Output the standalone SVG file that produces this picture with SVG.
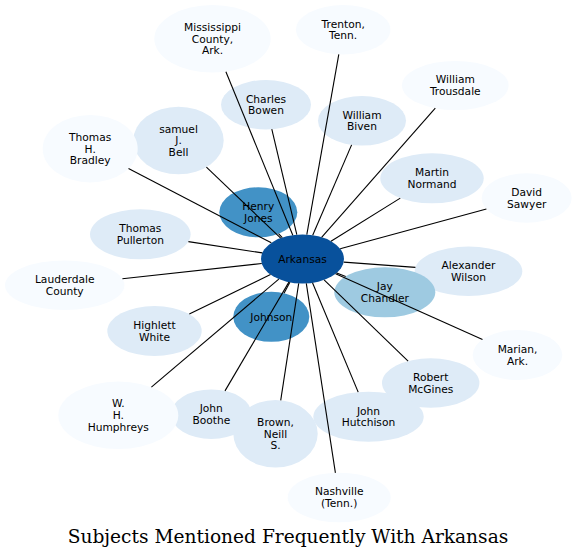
<svg xmlns="http://www.w3.org/2000/svg" width="576" height="558" viewBox="0 0 576 558">
<style>
.n text{font-family:"DejaVu Sans",Verdana,sans-serif;font-size:10.67px;fill:#000;text-anchor:middle}
.c0{fill:#f7fbff}.c1{fill:#deebf7}.c2{fill:#9ecae1}.c3{fill:#4292c6}.c4{fill:#08519c}
.e line{stroke:#000;stroke-width:1.1}
.title{font-family:"DejaVu Serif",serif;font-size:18.6px;fill:#000;text-anchor:middle}
</style>
<rect width="576" height="558" fill="#fff"/>
<g id="n-arkansas" class="n"><ellipse class="c4" cx="302.5" cy="259" rx="41.5" ry="24.5"/><text x="302.5" y="262.8">Arkansas</text></g>
<g id="n-mississippi" class="n"><ellipse class="c0" cx="212.5" cy="38.8" rx="58.2" ry="33.8"/><text x="212.5" y="30.9">Mississippi</text><text x="212.5" y="42.6">County,</text><text x="212.5" y="54.3">Ark.</text></g>
<g id="n-trenton" class="n"><ellipse class="c0" cx="343.2" cy="29.7" rx="47.2" ry="24.7"/><text x="343.2" y="27.6">Trenton,</text><text x="343.2" y="39.3">Tenn.</text></g>
<g id="n-trousdale" class="n"><ellipse class="c0" cx="455.3" cy="85.5" rx="53.3" ry="24.5"/><text x="455.3" y="83.4">William</text><text x="455.3" y="95.1">Trousdale</text></g>
<g id="n-bowen" class="n"><ellipse class="c1" cx="266" cy="104.7" rx="45" ry="24.7"/><text x="266" y="102.6">Charles</text><text x="266" y="114.3">Bowen</text></g>
<g id="n-biven" class="n"><ellipse class="c1" cx="362" cy="120.8" rx="44" ry="24.8"/><text x="362" y="118.7">William</text><text x="362" y="130.4">Biven</text></g>
<g id="n-bell" class="n"><ellipse class="c1" cx="178.5" cy="140.5" rx="45.2" ry="33.8"/><text x="178.5" y="132.6">samuel</text><text x="178.5" y="144.3">J.</text><text x="178.5" y="156">Bell</text></g>
<g id="n-bradley" class="n"><ellipse class="c0" cx="90.2" cy="148.7" rx="47.5" ry="33.7"/><text x="90.2" y="140.8">Thomas</text><text x="90.2" y="152.5">H.</text><text x="90.2" y="164.2">Bradley</text></g>
<g id="n-henry-jones" class="n"><ellipse class="c3" cx="258.3" cy="212.3" rx="39" ry="25"/><text x="258.3" y="210.2">Henry</text><text x="258.3" y="221.9">Jones</text></g>
<g id="n-normand" class="n"><ellipse class="c1" cx="432" cy="178.3" rx="51.7" ry="25"/><text x="432" y="176.2">Martin</text><text x="432" y="187.9">Normand</text></g>
<g id="n-sawyer" class="n"><ellipse class="c0" cx="526.7" cy="198" rx="45" ry="24.7"/><text x="526.7" y="195.9">David</text><text x="526.7" y="207.6">Sawyer</text></g>
<g id="n-pullerton" class="n"><ellipse class="c1" cx="140.3" cy="234.3" rx="50.3" ry="25"/><text x="140.3" y="232.2">Thomas</text><text x="140.3" y="243.9">Pullerton</text></g>
<g id="n-wilson" class="n"><ellipse class="c1" cx="468.5" cy="271.3" rx="53.8" ry="24.7"/><text x="468.5" y="269.2">Alexander</text><text x="468.5" y="280.9">Wilson</text></g>
<g id="n-chandler" class="n"><ellipse class="c2" cx="384.8" cy="292.3" rx="50.5" ry="25"/><text x="384.8" y="290.2">Jay</text><text x="384.8" y="301.9">Chandler</text></g>
<g id="n-lauderdale" class="n"><ellipse class="c0" cx="64.7" cy="285.2" rx="59.7" ry="24.8"/><text x="64.7" y="283.1">Lauderdale</text><text x="64.7" y="294.8">County</text></g>
<g id="n-highlett" class="n"><ellipse class="c1" cx="154.5" cy="331" rx="47.2" ry="25"/><text x="154.5" y="328.9">Highlett</text><text x="154.5" y="340.6">White</text></g>
<g id="n-johnson" class="n"><ellipse class="c3" cx="271.3" cy="316.8" rx="38" ry="25"/><text x="271.3" y="320.6">Johnson</text></g>
<g id="n-marian" class="n"><ellipse class="c0" cx="517.5" cy="355" rx="44.8" ry="25"/><text x="517.5" y="352.9">Marian,</text><text x="517.5" y="364.6">Ark.</text></g>
<g id="n-mcgines" class="n"><ellipse class="c1" cx="430.7" cy="383" rx="48.7" ry="24.7"/><text x="430.7" y="380.9">Robert</text><text x="430.7" y="392.6">McGines</text></g>
<g id="n-boothe" class="n"><ellipse class="c1" cx="211.3" cy="414.2" rx="40.3" ry="24.8"/><text x="211.3" y="412.1">John</text><text x="211.3" y="423.8">Boothe</text></g>
<g id="n-humphreys" class="n"><ellipse class="c0" cx="118.3" cy="415.3" rx="60" ry="33.7"/><text x="118.3" y="407.4">W.</text><text x="118.3" y="419.1">H.</text><text x="118.3" y="430.8">Humphreys</text></g>
<g id="n-hutchison" class="n"><ellipse class="c1" cx="368.5" cy="416.7" rx="55.2" ry="25"/><text x="368.5" y="414.6">John</text><text x="368.5" y="426.3">Hutchison</text></g>
<g id="n-brown" class="n"><ellipse class="c1" cx="275.5" cy="433.8" rx="42.2" ry="33.8"/><text x="275.5" y="425.9">Brown,</text><text x="275.5" y="437.6">Neill</text><text x="275.5" y="449.3">S.</text></g>
<g id="n-nashville" class="n"><ellipse class="c0" cx="339.2" cy="497.5" rx="51.5" ry="24.8"/><text x="339.2" y="495.4">Nashville</text><text x="339.2" y="507.1">(Tenn.)</text></g>
<g id="edges" class="e">
<line x1="292.8" y1="235.2" x2="225.9" y2="71.7"/>
<line x1="306.8" y1="234.6" x2="338.8" y2="54.3"/>
<line x1="321.6" y1="237.3" x2="435.3" y2="108.2"/>
<line x1="296.8" y1="234.7" x2="271.8" y2="129.2"/>
<line x1="312.7" y1="235.3" x2="351.6" y2="144.9"/>
<line x1="280.7" y1="238.2" x2="206.4" y2="167.1"/>
<line x1="271.3" y1="242.8" x2="128.5" y2="168.6"/>
<line x1="282.3" y1="237.6" x2="278.5" y2="233.7"/>
<line x1="331.0" y1="241.2" x2="400.3" y2="198.1"/>
<line x1="340.2" y1="248.7" x2="486.4" y2="209.0"/>
<line x1="262.3" y1="252.9" x2="188.4" y2="241.6"/>
<line x1="343.7" y1="262.1" x2="415.4" y2="267.4"/>
<line x1="336.7" y1="272.9" x2="345.7" y2="276.5"/>
<line x1="335.6" y1="273.8" x2="482.5" y2="339.4"/>
<line x1="324.1" y1="279.9" x2="408.1" y2="361.1"/>
<line x1="312.5" y1="282.8" x2="358.2" y2="392.1"/>
<line x1="306.3" y1="283.4" x2="335.4" y2="472.8"/>
<line x1="298.7" y1="283.4" x2="280.7" y2="400.3"/>
<line x1="288.9" y1="282.1" x2="225.0" y2="390.9"/>
<line x1="289.9" y1="282.3" x2="284.0" y2="293.2"/>
<line x1="278.8" y1="279.1" x2="151.4" y2="387.2"/>
<line x1="270.5" y1="274.6" x2="189.3" y2="314.1"/>
<line x1="261.7" y1="263.5" x2="122.4" y2="278.8"/>
</g>
<text class="title" x="288" y="543">Subjects Mentioned Frequently With Arkansas</text>
</svg>
